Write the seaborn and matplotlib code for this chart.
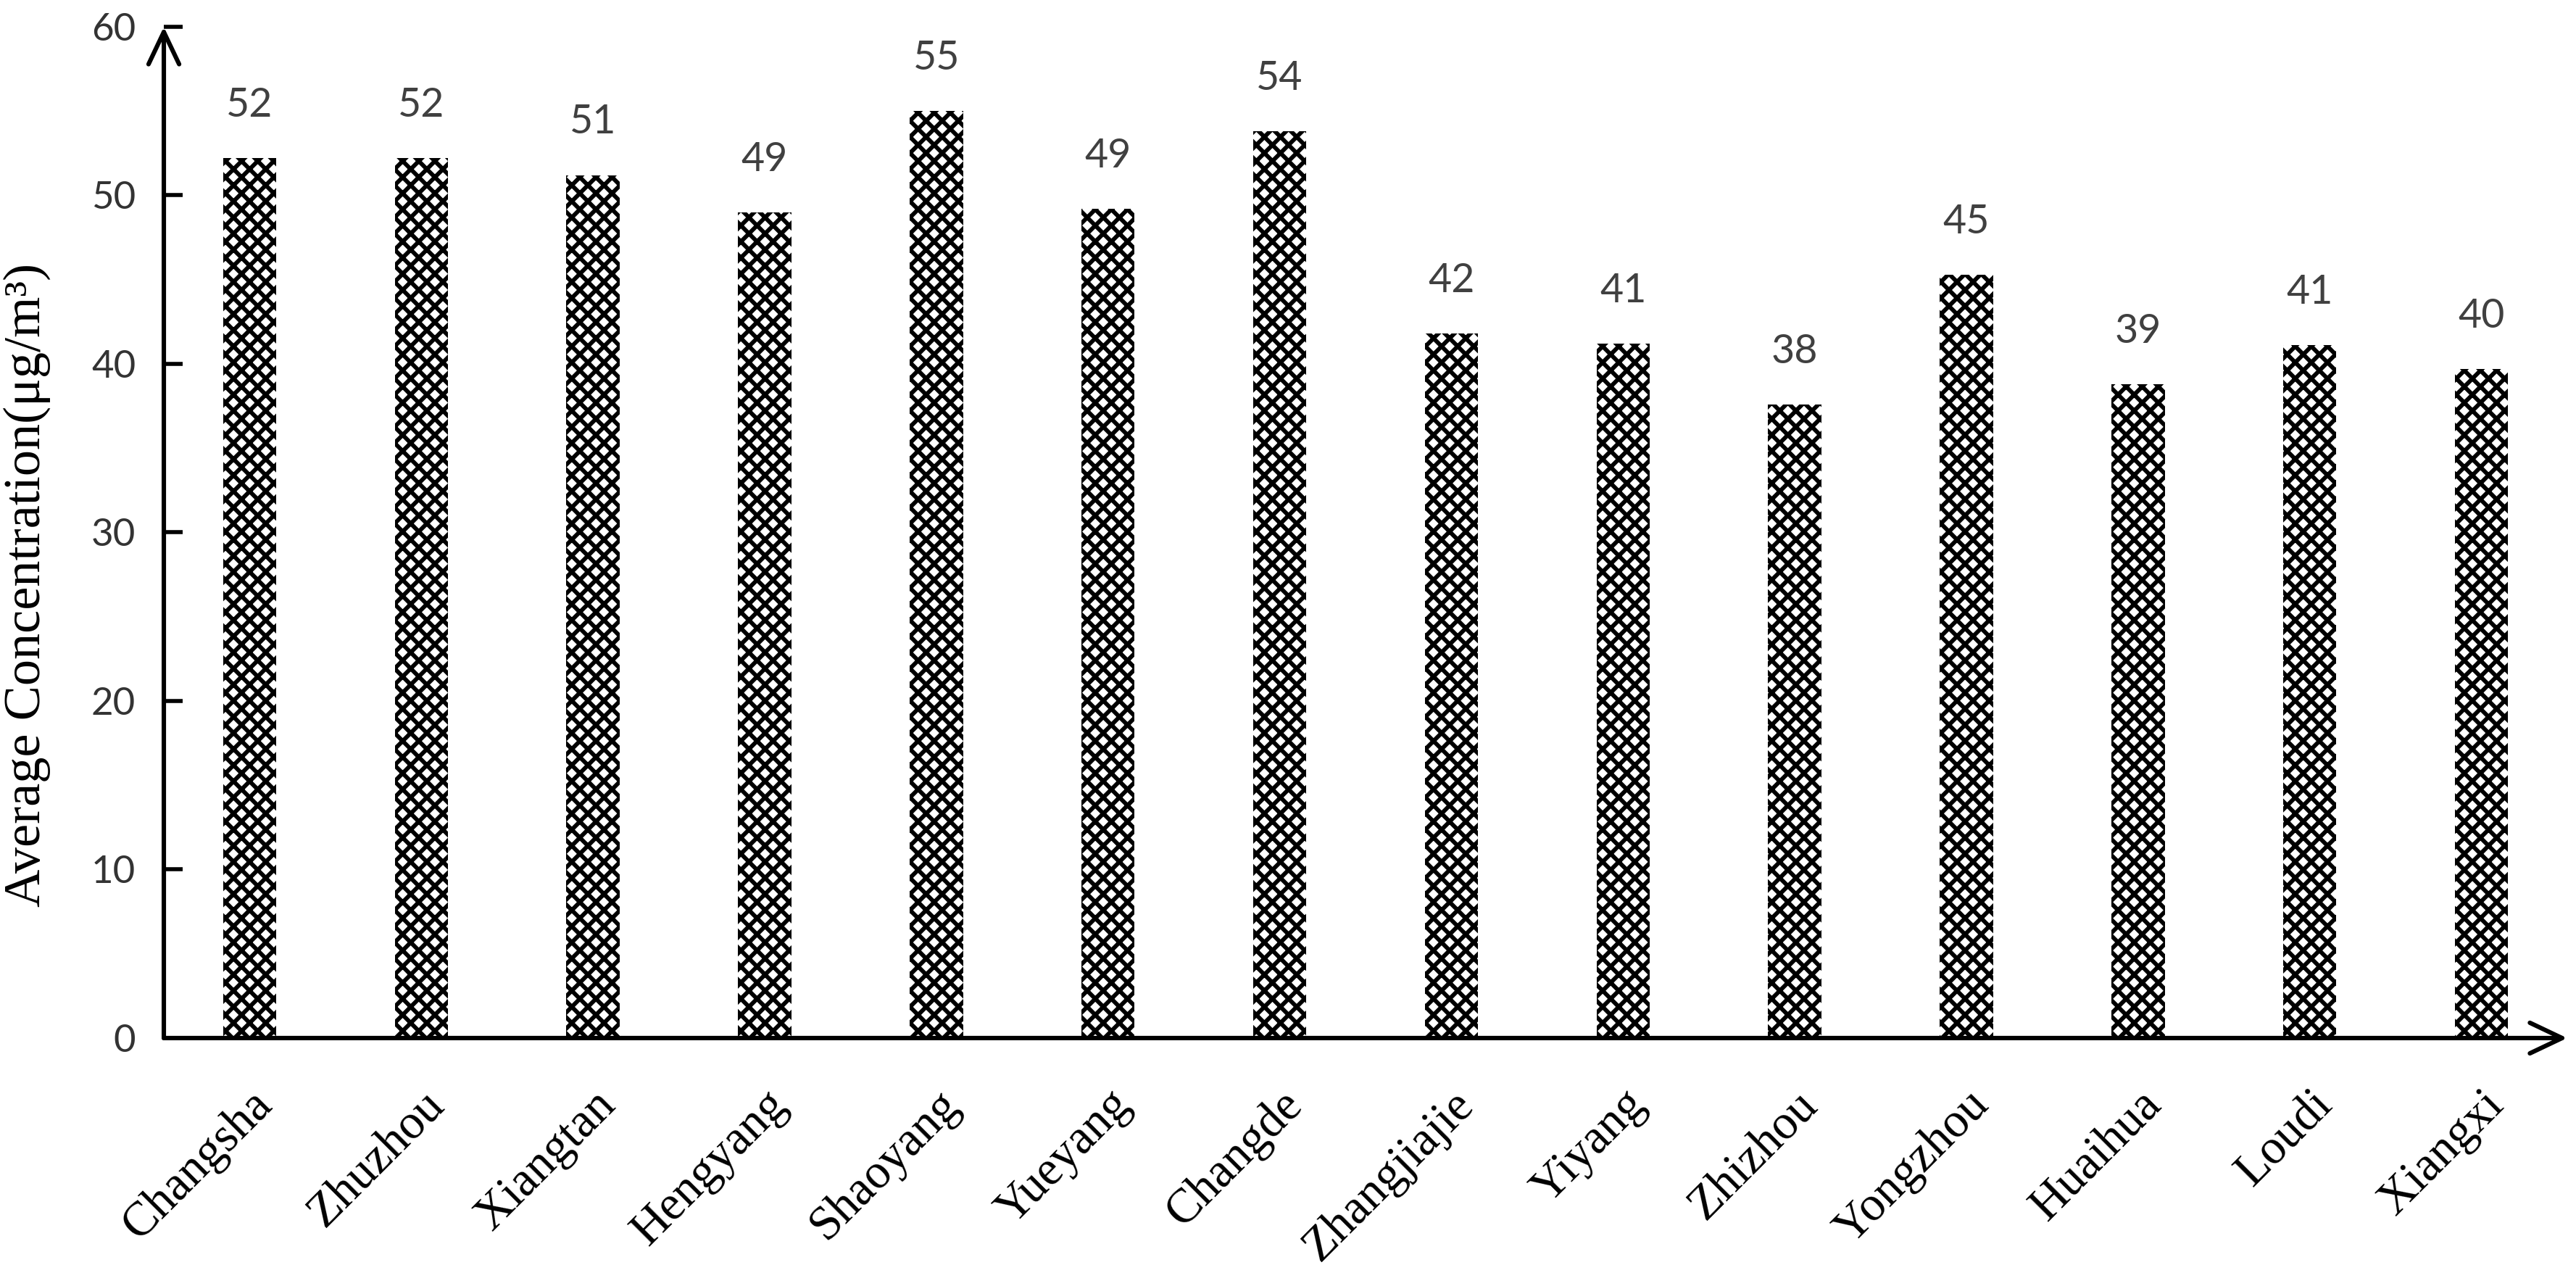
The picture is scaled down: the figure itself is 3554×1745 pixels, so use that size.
import seaborn as sns
from matplotlib import pyplot as plt
from matplotlib import patches as mpatches
import pandas as pd

cities = ["Changsha", "Zhuzhou", "Xiangtan", "Hengyang", "Shaoyang", "Yueyang", "Changde",
          "Zhangjiajie", "Yiyang", "Zhizhou", "Yongzhou", "Huaihua", "Loudi", "Xiangxi"]
concentration = [52.2, 52.2, 51.2, 49.0, 55.0, 49.2, 53.8,
                 41.8, 41.2, 37.6, 45.3, 38.8, 41.1, 39.7]
yticks = [0, 10, 20, 30, 40, 50, 60]

if __name__ == "__main__":
	sns.set_theme(style="white")
	plt.rcParams["font.family"] = ["Liberation Serif", "DejaVu Serif"]
	plt.rcParams["hatch.linewidth"] = 2.1
	plt.rcParams["hatch.color"] = "black"

	data = pd.DataFrame({"city": cities, "conc": concentration})

	fig = plt.figure(figsize=(3554 / 200, 1745 / 200), dpi=200)
	ax = fig.add_axes([0.0636, 0.1794, 0.933, 0.7994])

	sns.barplot(data, x="city", y="conc", color="white", saturation=1, width=0.31,
	            edgecolor="black", linewidth=0, hatch="xxx", ax=ax)

	ax.set_xlim(-0.5, 13.5)
	ax.set_ylim(0, 60)
	ax.set_yticks(yticks)
	for s in ax.spines.values():
		s.set_visible(False)

	# axis lines with open arrow heads
	for end in [(1, 0), (0, 1)]:
		arr = mpatches.FancyArrowPatch((0, 0), end, transform=ax.transAxes,
		                               arrowstyle="->,head_length=0.8,head_width=0.38",
		                               mutation_scale=20, lw=2.2, color="black",
		                               shrinkA=0, shrinkB=0, clip_on=False, zorder=5)
		ax.add_patch(arr)

	ax.tick_params(axis="y", direction="in", length=9.4, width=2, color="black",
	               pad=14, labelsize=19, labelcolor="#333333", left=True)
	for t in ax.get_yticklabels():
		t.set_family(["Lato", "DejaVu Sans"])
	ax.tick_params(axis="x", length=0, pad=22, labelsize=24, labelcolor="black")
	plt.setp(ax.get_xticklabels(), rotation=45, ha="right", rotation_mode="anchor")

	ax.set_xlabel("")
	ax.set_ylabel("Average Concentration(μg/m³)", fontsize=26, color="black")
	ax.yaxis.set_label_coords(-0.047, 0.448)

	ax.bar_label(ax.containers[0], labels=[f"{round(v)}" for v in concentration],
	             padding=17, fontsize=20, color="#404040", family=["Lato", "DejaVu Sans"])

	fig.savefig("out.png", dpi=200)
